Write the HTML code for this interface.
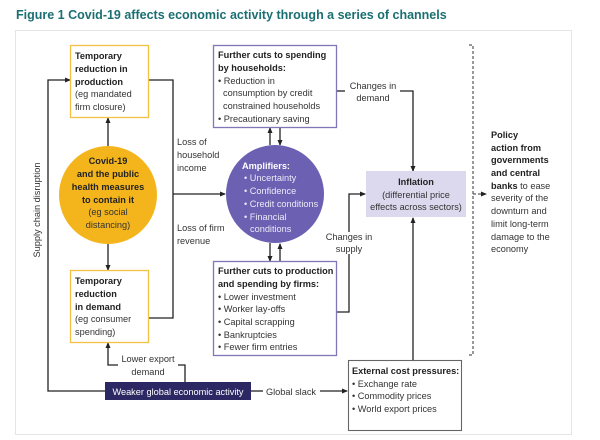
<!DOCTYPE html>
<html><head><meta charset="utf-8"><style>
html,body{margin:0;padding:0;background:#fff;}
svg{display:block;font-family:"Liberation Sans",sans-serif;}
.t{font-size:9.2px;fill:#333;}
.b{font-weight:bold;fill:#222;}
</style></head><body>
<svg width="600" height="440" viewBox="0 0 600 440" xmlns="http://www.w3.org/2000/svg">
<defs><marker id="a" markerWidth="6" markerHeight="6" refX="5" refY="3" orient="auto" markerUnits="userSpaceOnUse"><path d="M0,0.5 L6,3 L0,5.5z" fill="#222"/></marker></defs>
<text x="16" y="19" font-size="12.5" font-weight="bold" fill="#1b6f72">Figure 1 Covid-19 affects economic activity through a series of channels</text>
<rect x="15.5" y="30.5" width="556" height="404" fill="#fff" stroke="#e4e4e4"/>

<g stroke="#222" stroke-width="1.3" fill="none">
<polyline points="105,391 48,391 48,80 70,80" marker-end="url(#a)"/>
<polyline points="148,80 173,80 173,318 148,318"/>
<line x1="173" y1="194" x2="225" y2="194" marker-end="url(#a)"/>
<line x1="108" y1="146" x2="108" y2="118" marker-end="url(#a)"/>
<line x1="108" y1="244" x2="108" y2="270" marker-end="url(#a)"/>
<line x1="270" y1="145" x2="270" y2="128" marker-end="url(#a)"/>
<line x1="280" y1="128" x2="280" y2="145" marker-end="url(#a)"/>
<line x1="270" y1="243" x2="270" y2="261" marker-end="url(#a)"/>
<line x1="280" y1="261" x2="280" y2="244" marker-end="url(#a)"/>
<polyline points="337,91 345,91"/>
<polyline points="400,91 413,91 413,171" marker-end="url(#a)"/>
<polyline points="337,312 349,312 349,254"/>
<polyline points="349,232 349,194 365,194" marker-end="url(#a)"/>
<line x1="413" y1="360" x2="413" y2="218" marker-end="url(#a)"/>
<polyline points="185,382 185,365 178,365"/>
<polyline points="118,365 108,365 108,343" marker-end="url(#a)"/>
<line x1="251" y1="391" x2="263" y2="391"/>
<line x1="320" y1="391" x2="347" y2="391" marker-end="url(#a)"/>
</g>
<g stroke="#333" stroke-width="1" fill="none" stroke-dasharray="3,2">
<polyline points="469,45 473,45 473,355 469,355"/>
<line x1="473" y1="194" x2="486" y2="194" marker-end="url(#a)"/>
</g>

<rect x="70.5" y="45.5" width="78" height="72" fill="#fff" stroke="#f4c242" stroke-width="1.3"/>
<text class="t"><tspan class="b" x="75" y="59">Temporary</tspan><tspan class="b" x="75" y="72">reduction in</tspan><tspan class="b" x="75" y="85">production</tspan><tspan x="75" y="97">(eg mandated</tspan><tspan x="75" y="110">firm closure)</tspan></text>
<rect x="70.5" y="270.5" width="78" height="72" fill="#fff" stroke="#f4c242" stroke-width="1.3"/>
<text class="t"><tspan class="b" x="75" y="284">Temporary</tspan><tspan class="b" x="75" y="297">reduction</tspan><tspan class="b" x="75" y="310">in demand</tspan><tspan x="75" y="322">(eg consumer</tspan><tspan x="75" y="335">spending)</tspan></text>

<circle cx="108" cy="195" r="49" fill="#f4b51c"/>
<text class="t" text-anchor="middle"><tspan class="b" x="108" y="164">Covid-19</tspan><tspan class="b" x="108" y="177">and the public</tspan><tspan class="b" x="108" y="190">health measures</tspan><tspan class="b" x="108" y="203">to contain it</tspan><tspan x="108" y="215">(eg social</tspan><tspan x="108" y="228">distancing)</tspan></text>

<text class="t"><tspan x="177" y="145">Loss of</tspan><tspan x="177" y="158">household</tspan><tspan x="177" y="171">income</tspan><tspan x="177" y="231">Loss of firm</tspan><tspan x="177" y="244">revenue</tspan></text>
<text class="t" transform="translate(40,210) rotate(-90)" text-anchor="middle">Supply chain disruption</text>

<circle cx="275" cy="194" r="49" fill="#6c60b2"/>
<text class="t" style="fill:#ece9f8"><tspan x="242" y="169" font-weight="bold" style="fill:#fff">Amplifiers:</tspan><tspan x="244" y="181">• Uncertainty</tspan><tspan x="244" y="194">• Confidence</tspan><tspan x="244" y="207">• Credit conditions</tspan><tspan x="244" y="220">• Financial</tspan><tspan x="250" y="232">conditions</tspan></text>

<rect x="213.5" y="45.5" width="123" height="82" fill="#fff" stroke="#7f78b8" stroke-width="1.3"/>
<text class="t"><tspan class="b" x="218" y="58">Further cuts to spending</tspan><tspan class="b" x="218" y="71">by households:</tspan><tspan x="218" y="84">• Reduction in</tspan><tspan x="223" y="96">consumption by credit</tspan><tspan x="223" y="109">constrained households</tspan><tspan x="218" y="122">• Precautionary saving</tspan></text>

<rect x="213.5" y="261.5" width="123" height="94" fill="#fff" stroke="#7f78b8" stroke-width="1.3"/>
<text class="t"><tspan class="b" x="218" y="274">Further cuts to production</tspan><tspan class="b" x="218" y="287">and spending by firms:</tspan><tspan x="218" y="300">• Lower investment</tspan><tspan x="218" y="312">• Worker lay-offs</tspan><tspan x="218" y="325">• Capital scrapping</tspan><tspan x="218" y="338">• Bankruptcies</tspan><tspan x="218" y="350">• Fewer firm entries</tspan></text>

<text class="t" text-anchor="middle"><tspan x="373" y="89">Changes in</tspan><tspan x="373" y="101">demand</tspan><tspan x="349" y="240">Changes in</tspan><tspan x="349" y="252">supply</tspan></text>

<rect x="366" y="171" width="100" height="46" fill="#dcd9ee"/>
<text class="t" text-anchor="middle"><tspan class="b" x="416" y="185">Inflation</tspan><tspan x="416" y="198">(differential price</tspan><tspan x="416" y="210">effects across sectors)</tspan></text>

<text class="t"><tspan class="b" x="491" y="138">Policy</tspan><tspan class="b" x="491" y="151">action from</tspan><tspan class="b" x="491" y="163">governments</tspan><tspan class="b" x="491" y="176">and central</tspan><tspan x="491" y="189"><tspan class="b">banks</tspan> to ease</tspan><tspan x="491" y="201">severity of the</tspan><tspan x="491" y="214">downturn and</tspan><tspan x="491" y="227">limit long-term</tspan><tspan x="491" y="240">damage to the</tspan><tspan x="491" y="252">economy</tspan></text>

<rect x="348.5" y="360.5" width="113" height="70" fill="#fff" stroke="#666" stroke-width="1.1"/>
<text class="t"><tspan class="b" x="352" y="374">External cost pressures:</tspan><tspan x="352" y="387">• Exchange rate</tspan><tspan x="352" y="399">• Commodity prices</tspan><tspan x="352" y="412">• World export prices</tspan></text>

<rect x="105" y="382" width="146" height="18" fill="#2b2863"/>
<text class="t" x="178" y="395" text-anchor="middle" style="fill:#fff">Weaker global economic activity</text>
<text class="t" text-anchor="middle"><tspan x="148" y="362">Lower export</tspan><tspan x="148" y="375">demand</tspan><tspan x="291" y="395">Global slack</tspan></text>
</svg>
</body></html>
